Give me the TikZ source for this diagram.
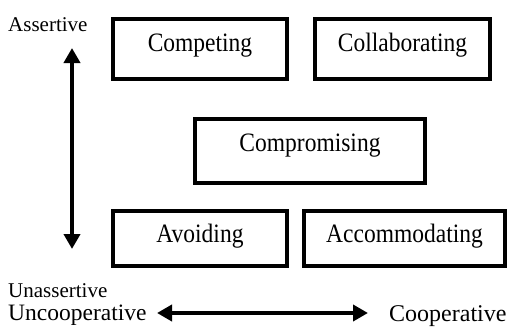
\documentclass[tikz,border=0pt]{standalone}
\usepackage{fontspec}
\setmainfont{Liberation Serif}
\usetikzlibrary{arrows.meta}
\newcommand{\vstretch}[1]{\scalebox{1}[1.13]{#1}}
\begin{document}
\begin{tikzpicture}[x=1pt,y=-1pt,
  stylebox/.style={draw=black,line width=3.5pt,rectangle,inner sep=0pt,
    font=\fontsize{23.5}{28}\selectfont,text height=19pt,text depth=15pt},
  axislabel/.style={anchor=base west,inner sep=0pt},
  axis/.style={line width=4.5pt,{Triangle[length=15pt,width=16pt]}-{Triangle[length=15pt,width=16pt]}}]
\useasboundingbox (0,0) rectangle (509,327);
\node[stylebox,minimum width=174pt,minimum height=60pt,text depth=14pt] (competing) at (200,49) {\vstretch{Competing}};
\node[stylebox,minimum width=175pt,minimum height=60pt,text depth=14pt] (collab) at (402.5,49) {\vstretch{Collaborating}};
\node[stylebox,minimum width=230pt,minimum height=64pt,text depth=17.5pt] (comprom) at (310,151) {\vstretch{Compromising}};
\node[stylebox,minimum width=174pt,minimum height=55pt,text depth=12pt] (avoid) at (200,238.5) {\vstretch{Avoiding}};
\node[stylebox,minimum width=201pt,minimum height=55pt,text depth=12pt] (accom) at (404.5,238.5) {\vstretch{Accommodating}};
\node[axislabel,font=\fontsize{21}{24}\selectfont] (assert) at (8,31.5) {Assertive};
\node[axislabel,font=\fontsize{21}{24}\selectfont] (unassert) at (8,297) {Unassertive};
\node[axislabel,font=\fontsize{23.5}{27}\selectfont] (uncoop) at (8,320.5) {Uncooperative};
\node[axislabel,font=\fontsize{24}{28}\selectfont] (coop) at (389,321.5) {Cooperative};
\coordinate (vtop) at (72,48);
\coordinate (vbot) at (72,249);
\coordinate (hleft) at (157,313);
\coordinate (hright) at (368,313);
\draw[axis] (vtop) -- (vbot);
\draw[axis] (hleft) -- (hright);
\end{tikzpicture}
\end{document}
